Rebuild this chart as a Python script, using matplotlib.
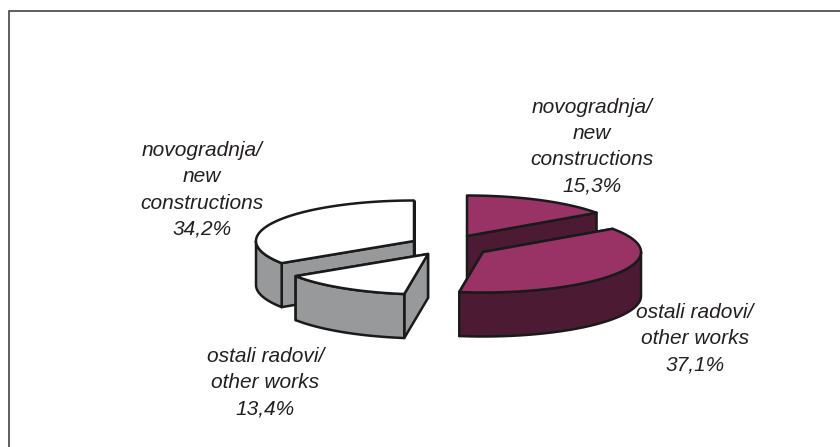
import numpy as np
import matplotlib
matplotlib.use('Agg')
import matplotlib.pyplot as plt
from matplotlib.patches import Polygon

# share of works, clockwise from 12 o'clock
names = ['novogradnja/\nnew\nconstructions', 'ostali radovi/\nother works',
         'ostali radovi/\nother works', 'novogradnja/\nnew\nconstructions']
values = [15.3, 37.1, 13.4, 34.2]

# pie look, in pixels of the 840x447 picture
rx, ry, depth = 158, 40.5, 44
centres = [(467, 236), (483, 252), (428, 254), (414, 241)]
tops = ['#993366', '#993366', '#ffffff', '#ffffff']
sides = ['#4d1a33', '#4d1a33', '#97999b', '#97999b']
label_pos = [(592, 146.5), (695, 338.5), (265.5, 383), (202, 190)]
edge = '#1a1a1a'

fig = plt.figure(figsize=(8.4, 4.47), dpi=100)
ax = fig.add_axes([0, 0, 1, 1])
ax.set_xlim(0, 840)
ax.set_ylim(447, 0)
ax.axis('off')

# frame is only there on the top and left
ax.plot([8.5, 8.5, 840], [447, 11, 11], color='#333333', lw=1.1,
        solid_joinstyle='miter')


def rim(c, a):
    # a in degrees clockwise from the top
    a = np.radians(a)
    return np.column_stack([c[0] + rx * np.sin(a), c[1] - ry * np.cos(a)])


def face(pts, color, zorder):
    ax.add_patch(Polygon(pts, closed=True, fc=color, ec=edge, lw=1.8,
                         joinstyle='round', zorder=zorder))


down = np.array([0, depth])
ends = np.cumsum([0] + values) * 3.6

for i, v in enumerate(values):
    c = np.array(centres[i], dtype=float)
    a0, a1 = ends[i], ends[i + 1]
    z = i + 1 if i < 2 else 7 - i  # small grey slice sits in front of the white one
    z = z * 10
    # straight walls, the one further back first
    for a in sorted((a0, a1), key=lambda t: rim(c, [t])[0, 1]):
        p = rim(c, [a])[0]
        z += 0.1
        face([c, p, p + down, c + down], sides[i], z)
    # curved wall, only the part facing us
    lo, hi = max(a0, 90), min(a1, 270)
    if hi > lo:
        arc = rim(c, np.linspace(lo, hi, 80))
        face(np.vstack([arc, arc[::-1] + down]), sides[i], z + 1)
    # top
    arc = rim(c, np.linspace(a0, a1, 120))
    face(np.vstack([c, arc]), tops[i], z + 2)

for name, v, pos in zip(names, values, label_pos):
    pct = f'{v:.1f}%'.replace('.', ',')
    ax.text(pos[0], pos[1], name + '\n' + pct, ha='center', va='center',
            family='Liberation Sans', style='italic', fontsize=15,
            color='#231f20', linespacing=1.47, zorder=100)

fig.savefig('out.png', dpi=100)
